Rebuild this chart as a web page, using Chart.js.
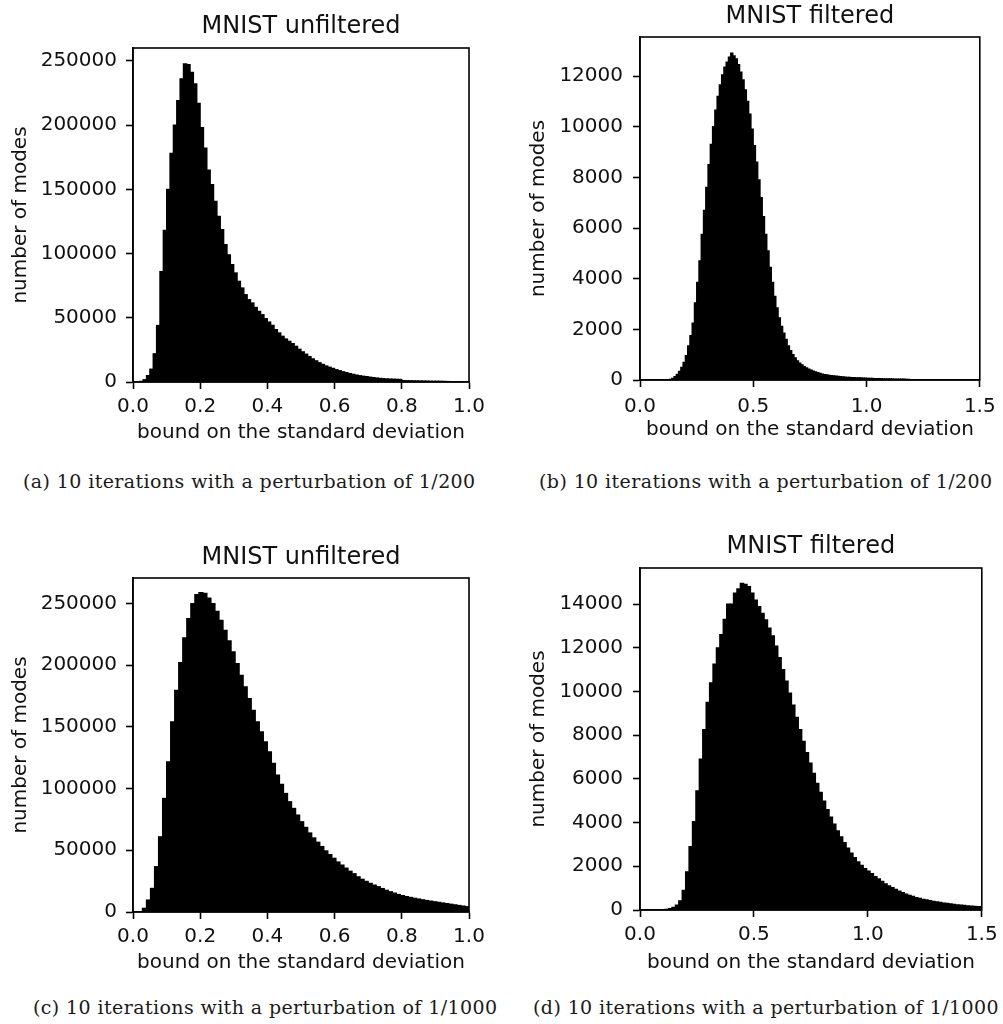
<!DOCTYPE html>
<html>
<head>
<meta charset="utf-8">
<title>MNIST mode bounds</title>
<script src="https://cdn.jsdelivr.net/npm/chart.js@4.4.1/dist/chart.umd.min.js"></script>
<style>
  html, body { margin: 0; padding: 0; background: #fff; }
  body { width: 1003px; height: 1024px; position: relative; overflow: hidden; }
  canvas { position: absolute; }
  .caption {
    position: absolute;
    font-family: 'DejaVu Serif', serif;
    font-size: 19px;
    letter-spacing: 0.4px;
    line-height: 20px;
    color: #1a1a1a;
    white-space: nowrap;
  }
</style>
</head>
<body>
<canvas id="histA" width="500" height="460" style="left:0;top:0"></canvas>
<canvas id="histB" width="503" height="460" style="left:500px;top:0"></canvas>
<canvas id="histC" width="500" height="460" style="left:0;top:520px"></canvas>
<canvas id="histD" width="503" height="460" style="left:500px;top:520px"></canvas>

<div class="caption" style="left:23px;top:471px">(a) 10 iterations with a perturbation of 1/200</div>
<div class="caption" style="left:539px;top:471px">(b) 10 iterations with a perturbation of 1/200</div>
<div class="caption" style="left:33px;top:997px">(c) 10 iterations with a perturbation of 1/1000</div>
<div class="caption" style="left:533px;top:997px">(d) 10 iterations with a perturbation of 1/1000</div>

<script>
// Histogram bins: first bin edge + bin width, and the count in every bin
const binStartA = 0.02, binWidthA = 0.01;
const countsA = [
  500, 1800, 5000, 10000, 22000, 44000, 86000, 118000, 150000, 178000,
  200000, 219000, 236000, 247600, 247000, 241000, 232000, 217000, 198000, 182000,
  165000, 153600, 140700, 129000, 118600, 107000, 99000, 91400, 84900, 78400,
  73200, 68000, 64100, 61500, 58100, 55000, 52400, 49300, 46700, 44100,
  40800, 38200, 35600, 33500, 31700, 29900, 27800, 25500, 23500, 21700,
  19800, 18000, 16500, 15000, 13700, 12500, 11500, 10600, 9600, 8800,
  8000, 7300, 6600, 6000, 5400, 4900, 4500, 4200, 3800, 3400,
  3100, 2800, 2600, 2400, 2300, 2200, 2100, 2000, 1100, 1000,
  950, 900, 850, 800, 750, 700, 650, 600, 600, 550,
  500, 400
];

const binStartB = 0.13, binWidthB = 0.01;
const countsB = [
  30, 70, 130, 220, 340, 500, 700, 960, 1350, 1750,
  2250, 3050, 3850, 4700, 5750, 6700, 7600, 8500, 9300, 10000,
  10650, 11200, 11650, 12050, 12350, 12550, 12750, 12900, 12800, 12680,
  12450, 12150, 11850, 11450, 11000, 10500, 9900, 9250, 8600, 7900,
  7200, 6450, 5750, 5100, 4450, 3850, 3300, 2850, 2450, 2120,
  1850, 1600, 1350, 1160, 1000, 870, 760, 670, 600, 530,
  480, 430, 390, 350, 320, 290, 260, 235, 215, 200,
  185, 170, 160, 150, 140, 130, 122, 115, 108, 102,
  97, 92, 88, 84, 80, 76, 72, 68, 65, 62,
  60, 57, 54, 51, 49, 47, 45, 43, 41, 40,
  38, 36, 34, 31, 28, 24, 20, 16, 12, 8,
  5
];

const binStartC = 0.028, binWidthC = 0.012;
const countsC = [
  3000, 9700, 19100, 36700, 60900, 92000, 121600, 154000, 179600, 202000,
  222000, 237600, 249700, 257000, 258600, 258000, 254300, 249700, 243500, 236200,
  228200, 219500, 210600, 201200, 191700, 182300, 172900, 163400, 154000, 145900,
  137800, 129700, 120300, 110800, 103300, 96000, 89300, 83900, 78500, 73100,
  68500, 64000, 60000, 56500, 53000, 49500, 46500, 43500, 40500, 38000,
  35500, 33000, 31000, 28500, 26500, 24800, 23200, 21800, 20500, 19000,
  17600, 16400, 15300, 14200, 13300, 12500, 11800, 11100, 10500, 9900,
  9300, 8800, 8300, 7800, 7300, 6800, 6300, 5800, 5300, 4800,
  4300
];

const binStartD = 0.11, binWidthD = 0.015;
const countsD = [
  30, 60, 120, 220, 420, 900, 1750, 2900, 4050, 5450,
  6900, 8250, 9500, 10400, 11250, 12000, 12600, 13300, 14000, 14000,
  14500, 14700, 14950, 14900, 14800, 14500, 14180, 13880, 13570, 13280,
  12900, 12550, 12080, 11550, 11000, 10480, 9920, 9380, 8820, 8260,
  7720, 7200, 6720, 6250, 5800, 5380, 4980, 4600, 4250, 3930,
  3620, 3350, 3080, 2830, 2600, 2400, 2200, 2040, 1900, 1780,
  1660, 1530, 1420, 1310, 1200, 1110, 1030, 950, 870, 800,
  730, 670, 620, 570, 530, 490, 460, 430, 400, 370,
  345, 320, 300, 280, 260, 240, 225, 210, 195, 180,
  170, 160, 150
];

// axis ranges and tick labels
const yMaxA = 260000, yMaxB = 13540, yMaxC = 270500, yMaxD = 15650;
const xMaxA = 1.0, xMaxB = 1.5, xMaxC = 1.0, xMaxD = 1.5;
const xTicksUnfiltered = [0, 0.2, 0.4, 0.6, 0.8, 1.0];
const xTicksFiltered = [0, 0.5, 1.0, 1.5];
const yTicksUnfiltered = [0, 50000, 100000, 150000, 200000, 250000];
const yTicksFilteredB = [0, 2000, 4000, 6000, 8000, 10000, 12000];
const yTicksFilteredD = [0, 2000, 4000, 6000, 8000, 10000, 12000, 14000];

const xLabel = 'bound on the standard deviation';
const yLabel = 'number of modes';

const FONT = 'DejaVu Sans';
const INK = '#111';

// matplotlib-style box around the axes
const axesFrame = {
  id: 'axesFrame',
  afterDraw(chart) {
    const { ctx, chartArea: a } = chart;
    ctx.save();
    ctx.strokeStyle = '#000';
    ctx.lineWidth = 1.6;
    ctx.strokeRect(a.left, a.top, a.right - a.left, a.bottom - a.top);
    ctx.restore();
  }
};

function drawHistogram(canvasId, h, box) {
  const bars = h.counts.map((c, i) => ({ x: h.binStart + (i + 0.5) * h.binWidth, y: c }));

  const tickGrid = {
    drawOnChartArea: false, drawTicks: true, offset: false,
    tickLength: 7, tickWidth: 1.6, tickColor: '#000', color: '#000'
  };

  new Chart(document.getElementById(canvasId), {
    type: 'bar',
    data: {
      datasets: [{
        data: bars,
        backgroundColor: '#000',
        borderWidth: 0,
        barPercentage: 1,
        categoryPercentage: 1,
        inflateAmount: 0.6
      }]
    },
    plugins: [axesFrame],
    options: {
      responsive: false,
      animation: false,
      layout: { autoPadding: false, padding: { left: 0, right: box.padRight, top: 0, bottom: 0 } },
      plugins: {
        legend: { display: false },
        tooltip: { enabled: false },
        title: {
          display: true,
          fullSize: false,
          text: h.title,
          color: INK,
          font: { family: FONT, size: 24, weight: 'normal' },
          padding: box.titlePad
        }
      },
      scales: {
        x: {
          type: 'linear',
          min: 0,
          max: h.xMax,
          offset: false,
          grid: tickGrid,
          border: { display: true, color: '#000', width: 1.6 },
          ticks: {
            color: INK, font: { family: FONT, size: 20 }, padding: box.xTickPad,
            maxRotation: 0, autoSkip: false,
            callback: v => Number(v).toFixed(1)
          },
          afterBuildTicks: s => { s.ticks = h.xTicks.map(v => ({ value: v })); },
          afterFit: s => { s.height = box.xAxisHeight; },
          title: {
            display: true, text: xLabel, color: INK,
            font: { family: FONT, size: 20 },
            padding: { top: 0, bottom: box.xTitlePad }
          }
        },
        y: {
          min: 0,
          max: h.yMax,
          grid: tickGrid,
          border: { display: true, color: '#000', width: 1.6 },
          ticks: {
            color: INK, font: { family: FONT, size: 20 }, padding: box.yTickPad,
            autoSkip: false,
            callback: v => String(v)
          },
          afterBuildTicks: s => { s.ticks = h.yTicks.map(v => ({ value: v })); },
          afterFit: s => { s.width = box.yAxisWidth; },
          title: {
            display: true, text: yLabel, color: INK,
            font: { family: FONT, size: 20 },
            padding: { top: box.yTitlePad, bottom: 0 }
          }
        }
      }
    }
  });
}

drawHistogram('histA',
  { title: 'MNIST unfiltered', counts: countsA, binStart: binStartA, binWidth: binWidthA,
    xMax: xMaxA, yMax: yMaxA, xTicks: xTicksUnfiltered, yTicks: yTicksUnfiltered },
  { padRight: 31, yAxisWidth: 133, xAxisHeight: 78, titlePad: { top: 12, bottom: 7.2 },
    xTickPad: 5.3, xTitlePad: 15, yTickPad: 9, yTitlePad: 9 });

drawHistogram('histB',
  { title: 'MNIST filtered', counts: countsB, binStart: binStartB, binWidth: binWidthB,
    xMax: xMaxB, yMax: yMaxB, xTicks: xTicksFiltered, yTicks: yTicksFilteredB },
  { padRight: 18, yAxisWidth: 140, xAxisHeight: 80, titlePad: { top: 2, bottom: 6.2 },
    xTickPad: 7.3, xTitlePad: 18, yTickPad: 10, yTitlePad: 27 });

drawHistogram('histC',
  { title: 'MNIST unfiltered', counts: countsC, binStart: binStartC, binWidth: binWidthC,
    xMax: xMaxC, yMax: yMaxC, xTicks: xTicksUnfiltered, yTicks: yTicksUnfiltered },
  { padRight: 31, yAxisWidth: 133, xAxisHeight: 68, titlePad: { top: 23.4, bottom: 5.8 },
    xTickPad: 5.3, xTitlePad: 5, yTickPad: 9, yTitlePad: 9 });

drawHistogram('histD',
  { title: 'MNIST filtered', counts: countsD, binStart: binStartD, binWidth: binWidthD,
    xMax: xMaxD, yMax: yMaxD, xTicks: xTicksFiltered, yTicks: yTicksFilteredD },
  { padRight: 18, yAxisWidth: 140, xAxisHeight: 70, titlePad: { top: 12.6, bottom: 6.6 },
    xTickPad: 5.3, xTitlePad: 5.3, yTickPad: 10, yTitlePad: 27 });
</script>
</body>
</html>
